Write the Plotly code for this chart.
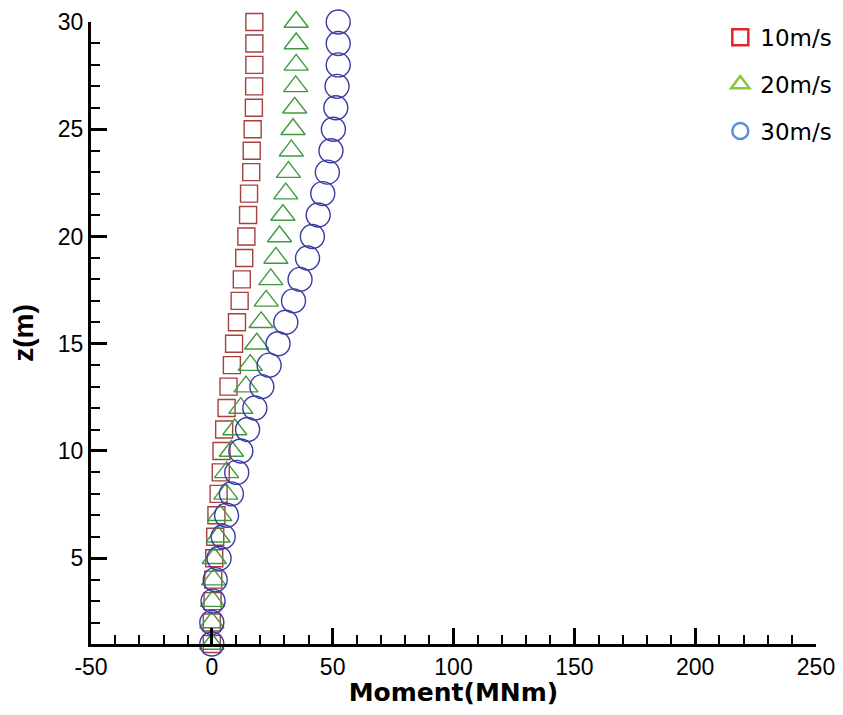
import plotly.graph_objects as go

# height along the tower (m)
z = list(range(1, 31))

m_10 = [0.0, 0.0, 0.3, 0.6, 1.0, 1.4, 1.9, 2.8, 3.7, 4.0, 5.1, 6.1, 6.9, 8.3, 9.2,
        10.4, 11.5, 12.4, 13.4, 14.3, 15.0, 15.4, 16.3, 16.5, 16.9, 17.4, 17.5, 17.6, 17.6, 17.6]
m_20 = [0.0, 0.0, 0.3, 0.7, 1.0, 2.6, 3.3, 5.8, 6.1, 8.1, 9.5, 12.0, 14.1, 15.9, 18.6,
        20.4, 22.5, 24.4, 26.5, 28.0, 29.4, 30.6, 31.7, 32.9, 33.6, 34.3, 34.7, 34.9, 34.9, 34.9]
m_30 = [0.0, 0.0, 0.5, 1.4, 3.0, 4.7, 6.1, 8.1, 10.3, 12.0, 14.8, 17.8, 20.7, 23.7, 27.4,
        30.6, 33.8, 36.5, 39.6, 41.6, 44.0, 45.9, 47.8, 49.3, 50.3, 51.3, 51.8, 52.3, 52.3, 52.3]

x_ticks = [-50, 0, 50, 100, 150, 200, 250]
x_labels = ["-50", "0", "50", "100", "150", "200", "250"]

series = [
    ("10m/s", m_10, "square-open", 17, "#a3423f", "#e0262a"),
    ("20m/s", m_20, "triangle-up-open", 21, "#3f9a3f", "#8cc63f"),
    ("30m/s", m_30, "circle-open", 24, "#3a3aa6", "#5b8fd6"),
]

fig = go.Figure()
for name, vals, sym, size, col, leg_col in series:
    fig.add_trace(go.Scatter(
        x=vals, y=z, mode="markers", showlegend=False, cliponaxis=False,
        marker=dict(symbol=sym, size=size, color=col, line=dict(width=1.4, color=col))
    ))
    # legend entry uses the brighter colours of the original key
    fig.add_trace(go.Scatter(
        x=[None], y=[None], mode="markers", name=name, legendgroup=name,
        marker=dict(symbol=sym, size=16, color=leg_col, line=dict(width=2.5, color=leg_col))
    ))

# the page body adds an 8px offset, so the figure is a bit smaller than the window
fig.update_layout(
    width=827, height=699,
    margin=dict(l=83, r=19, t=14, b=63, autoexpand=False),
    paper_bgcolor="white", plot_bgcolor="white",
    font=dict(family="Liberation Sans, Arial, sans-serif", size=23, color="black"),
    legend=dict(x=0.868, y=1.01, xanchor="left", yanchor="top",
                font=dict(family="DejaVu Sans, sans-serif", size=23),
                itemsizing="trace", tracegroupgap=14, bgcolor="rgba(0,0,0,0)"),
    xaxis=dict(
        range=[-50, 250], tickvals=x_ticks, ticktext=x_labels, automargin=False,
        ticklabeloverflow="allow",
        showgrid=False, zeroline=False,
        showline=True, linewidth=3, linecolor="black",
        ticks="inside", ticklen=16, tickwidth=3, tickcolor="black",
        minor=dict(dtick=10, ticks="inside", ticklen=9, tickwidth=1.5, tickcolor="black"),
        title=dict(text="<b>Moment(MNm)</b>",
                   font=dict(family="DejaVu Sans, sans-serif", size=25), standoff=7),
    ),
    yaxis=dict(
        range=[1.0, 30], dtick=5, tick0=0, automargin=False,
        showgrid=False, zeroline=False,
        showline=True, linewidth=3, linecolor="black",
        ticks="inside", ticklen=16, tickwidth=3, tickcolor="black",
        minor=dict(dtick=1, ticks="inside", ticklen=9, tickwidth=1.5, tickcolor="black"),
        title=dict(text="<b>z(m)</b>", font=dict(size=28), standoff=26),
    ),
)

fig.write_html("out.html")
